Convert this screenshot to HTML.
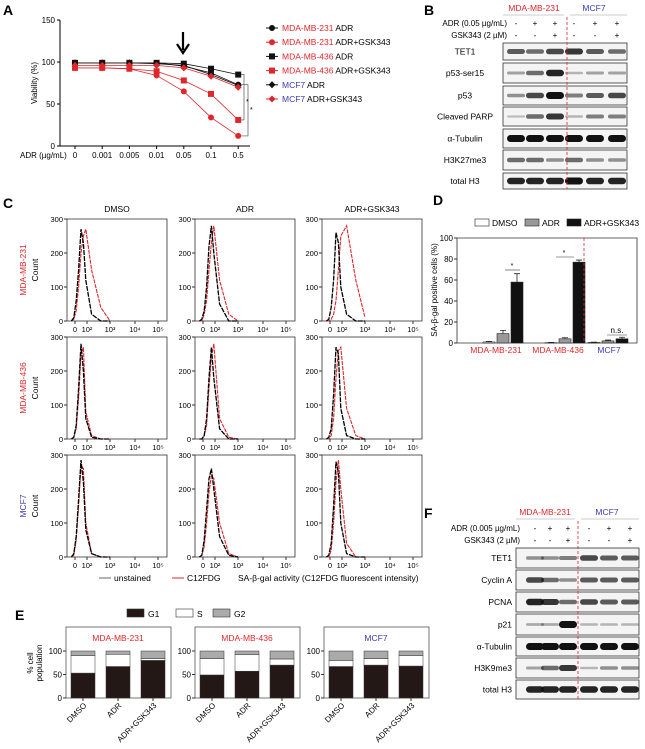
<!DOCTYPE html>
<html><head><meta charset="utf-8"><style>
body{margin:0;background:#fff;}
svg{display:block;font-family:"Liberation Sans",Arial,sans-serif;}
</style></head><body>
<svg id="fig" width="645" height="749" viewBox="0 0 645 749" xmlns="http://www.w3.org/2000/svg">
<text x="3" y="15" font-size="14" font-weight="bold">A</text>
<text x="424" y="15" font-size="14" font-weight="bold">B</text>
<text x="3" y="208" font-size="14" font-weight="bold">C</text>
<text x="433" y="205" font-size="14" font-weight="bold">D</text>
<text x="15" y="620" font-size="14" font-weight="bold">E</text>
<text x="424" y="518" font-size="14" font-weight="bold">F</text>
</svg>
<script>
const NS="http://www.w3.org/2000/svg";
const svg=document.getElementById('fig');
function mk(tag,attrs,parent){const e=document.createElementNS(NS,tag);for(const k in attrs)e.setAttribute(k,attrs[k]);(parent||svg).appendChild(e);return e;}
function tx(x,y,s,attrs,parent){const e=mk('text',Object.assign({x:x,y:y,'font-size':8},attrs||{}),parent);e.textContent=s;return e;}

// ================= Panel A data =================
const doseLabels=["0","0.001","0.005","0.01","0.05","0.1","0.5"];
const mda231Adr=[99,99,99,99,95,87,73];
const mda231AdrGsk=[93,93,92,84,65,34,12];
const mda436Adr=[99,99,99,99,98,92,85];
const mda436AdrGsk=[93,93,92,89,78,62,31];
const mcf7Adr=[99,99,99,98,96,85,72];
const mcf7AdrGsk=[96,96,96,96,93,83,70];
const viabTicks=[0,50,100,150];

const ax=i=>75+i*27.2, ay=v=>146-v*0.84;
let e;
e=mk('line',{x1:60,y1:ay(150),x2:60,y2:146,stroke:'#000','stroke-width':1});

e=mk('line',{x1:60,y1:146,x2:250,y2:146,stroke:'#000','stroke-width':1});

viabTicks.forEach(t=>{mk('line',{x1:57,y1:ay(t),x2:60,y2:ay(t),stroke:'#000'});
 e=tx(55,ay(t)+3,String(t),{'text-anchor':'end'});
 });
doseLabels.forEach((l,i)=>{mk('line',{x1:ax(i),y1:146,x2:ax(i),y2:149,stroke:'#000'});
 e=tx(ax(i),158,l,{'text-anchor':'middle'});
 });
e=tx(20,158,"ADR (µg/mL)",{});
e=tx(37,83,"Viability (%)",{'text-anchor':'middle',transform:'rotate(-90 37 83)'});

e=mk('path',{d:'M183 32 L183 50 M177 44 L183 53 L189 44',stroke:'#000','stroke-width':2.2,fill:'none'});

function marker(x,y,shape,col,g){
 if(shape==='c')return mk('circle',{cx:x,cy:y,r:3,fill:col},g);
 if(shape==='s')return mk('rect',{x:x-3,y:y-3,width:6,height:6,fill:col},g);
 return mk('path',{d:`M${x} ${y-3.5}L${x+3.5} ${y}L${x} ${y+3.5}L${x-3.5} ${y}Z`,fill:col},g);}
const seriesA=[[mda231Adr,'c','#111','mda231-adr'],[mda231AdrGsk,'c','#e0262b','mda231-adr-gsk'],
 [mda436Adr,'s','#111','mda436-adr'],[mda436AdrGsk,'s','#e0262b','mda436-adr-gsk'],
 [mcf7Adr,'d','#111','mcf7-adr'],[mcf7AdrGsk,'d','#e0262b','mcf7-adr-gsk']];
seriesA.forEach(s=>{const g=mk('g',{});
 
 mk('polyline',{points:s[0].map((v,i)=>ax(i)+','+ay(v)).join(' '),fill:'none',stroke:s[2],'stroke-width':0.8},g);
 s[0].forEach((v,i)=>{const m=marker(ax(i),ay(v),s[1],s[2],g);
 });});
[[mda436Adr,mda436AdrGsk,244],[mda231Adr,mda231AdrGsk,248]].forEach(b=>{
 e=mk('path',{d:`M241 ${ay(b[0][6])}H${b[2]}V${ay(b[1][6])}H241`,fill:'none',stroke:'#555','stroke-width':0.7});
 });
tx(246,104,"*",{'font-size':7});tx(250,112,"*",{'font-size':7});
const legA=[["MDA-MB-231","#e0262b"," ADR"],["MDA-MB-231","#e0262b"," ADR+GSK343"],["MDA-MB-436","#e0262b"," ADR"],["MDA-MB-436","#e0262b"," ADR+GSK343"],["MCF7","#3a3ab8"," ADR"],["MCF7","#3a3ab8"," ADR+GSK343"]];
legA.forEach((l,i)=>{const y=28+i*14.2;const g=mk('g',{});
 
 mk('line',{x1:266,y1:y,x2:278,y2:y,stroke:seriesA[i][2]},g);marker(272,y,seriesA[i][1],seriesA[i][2],g);
 const t=tx(282,y+3,'',{'font-size':8.5},g);
 const a=document.createElementNS(NS,'tspan');a.setAttribute('fill',l[1]);a.textContent=l[0];t.appendChild(a);
 const b=document.createElementNS(NS,'tspan');b.textContent=l[2];t.appendChild(b);});

// ================= Western blots =================
function blot(cfg){
 const {lanesX,rows,box,dash,hdr,signs,signY,labelX,name}=cfg;
 tx(hdr[0].x,hdr[0].y,"MDA-MB-231",{fill:'#e0262b','text-anchor':'middle','font-size':8.5});
 tx(hdr[1].x,hdr[1].y,"MCF7",{fill:'#3a3ab8','text-anchor':'middle','font-size':8.5});
 mk('line',{x1:box[0],y1:hdr[0].y+4,x2:dash-3,y2:hdr[0].y+4,stroke:'#999','stroke-width':0.6});
 mk('line',{x1:dash+3,y1:hdr[0].y+4,x2:box[1],y2:hdr[0].y+4,stroke:'#999','stroke-width':0.6});
 signs.forEach((row,r)=>{tx(labelX,signY[r]+3,row.label,{'text-anchor':'end','font-size':8});
  row.vals.forEach((s,i)=>tx(lanesX[i],signY[r]+3,s,{'text-anchor':'middle','font-size':8}));});
 rows.forEach(r=>{const g=mk('g',{});
  
  mk('rect',{x:box[0],y:r.y0,width:box[1]-box[0],height:r.y1-r.y0,fill:'#f4f4f4',stroke:'#333','stroke-width':0.8},g);
  const cy=(r.y0+r.y1)/2;
  r.band.forEach((v,i)=>{if(v<=0)return;const h=2+v*5;
   const b=mk('rect',{x:lanesX[i]-9,y:cy-h/2,width:18,height:h,rx:h/2,fill:'#111','fill-opacity':Math.min(1,0.2+v*0.8)},g);
   });
  tx(cfg.rowLabelX,cy+3,r.label,{'text-anchor':cfg.rowAnchor,'font-size':8.5},g);});
 mk('line',{x1:dash,y1:hdr[0].y+6,x2:dash,y2:rows[rows.length-1].y1,stroke:'#e0262b','stroke-width':0.8,'stroke-dasharray':'3,2'});
}
const bLanes=[516,535,555,574,595,617];
const bTet1=[0.6,0.5,0.7,0.8,0.6,0.5];
const bP53s15=[0.2,0.5,0.9,0.1,0.2,0.2];
const bP53=[0.3,0.7,1.0,0.4,0.6,0.7];
const bParp=[0.05,0.5,0.8,0.1,0.4,0.4];
const bTub=[1,1,1,1,1,1];
const bH3k27=[0.5,0.5,0.3,0.5,0.3,0.3];
const bH3=[0.9,0.9,0.9,1,0.9,0.9];
blot({name:'b',lanesX:bLanes,box:[503,627],dash:567,hdr:[{x:534,y:11},{x:594,y:11}],
 signY:[23,35],labelX:507,rowLabelX:465,rowAnchor:'middle',
 signs:[{label:"ADR (0.05 µg/mL)",vals:["-","+","+","-","+","+"]},{label:"GSK343 (2 µM)",vals:["-","-","+","-","-","+"]}],
 rows:[{label:"TET1",y0:43,y1:60,band:bTet1},{label:"p53-ser15",y0:63,y1:83,band:bP53s15},{label:"p53",y0:86,y1:105,band:bP53},
  {label:"Cleaved PARP",y0:107,y1:126,band:bParp},{label:"α-Tubulin",y0:129,y1:148,band:bTub},{label:"H3K27me3",y0:150,y1:170,band:bH3k27},{label:"total H3",y0:173,y1:189,band:bH3}]});
const fLanes=[535,550,568,589,609,630];
const fTet1=[0.3,0.3,0.4,0.7,0.6,0.6];
const fCycA=[0.7,0.5,0.3,0.6,0.6,0.6];
const fPcna=[0.9,0.8,0.5,0.7,0.6,0.6];
const fP21=[0.15,0.15,1.0,0.1,0.1,0.1];
const fTub=[1,1,1,1,1,1];
const fH3k9=[0.2,0.5,0.8,0.1,0.3,0.3];
const fH3=[0.9,0.9,0.9,0.9,0.9,0.9];
blot({name:'f',lanesX:fLanes,box:[516,639],dash:578,hdr:[{x:545,y:515},{x:607,y:515}],
 signY:[528,540],labelX:520,rowLabelX:512,rowAnchor:'end',
 signs:[{label:"ADR (0.005 µg/mL)",vals:["-","+","+","-","+","+"]},{label:"GSK343 (2 µM)",vals:["-","-","+","-","-","+"]}],
 rows:[{label:"TET1",y0:548,y1:568,band:fTet1},{label:"Cyclin A",y0:570,y1:590,band:fCycA},{label:"PCNA",y0:592,y1:612,band:fPcna},
  {label:"p21",y0:614,y1:635,band:fP21},{label:"α-Tubulin",y0:637,y1:656,band:fTub},{label:"H3K9me3",y0:658,y1:678,band:fH3k9},{label:"total H3",y0:680,y1:699,band:fH3}]});

// ================= Panel C histograms =================
const histBins=[-0.6,-0.2,0.2,0.6,1.0,1.4,1.8,2.2,2.6,3.0];
const histTicks=["0","10²","10³","10⁴","10⁵"];
const countTicks=[0,100,200,300];
const unstained=[
 [[0,10,60,150,270,230,120,20,0,0],[0,5,30,100,220,280,200,50,0,0],[0,5,40,120,260,230,100,20,0,0]],
 [[0,5,40,150,280,200,60,5,0,0],[0,0,10,60,180,270,180,30,0,0],[0,5,30,130,270,250,90,10,0,0]],
 [[0,10,60,170,285,220,80,10,0,0],[0,5,50,140,230,260,200,60,5,0],[0,5,40,150,280,250,100,10,0,0]]];
const c12fdg=[
 [[0,5,30,100,200,250,270,150,40,0],[0,0,20,60,150,230,280,120,20,0],[0,0,5,20,60,150,250,280,120,10]],
 [[0,5,30,120,250,270,80,10,0,0],[0,0,10,40,150,240,280,60,5,0],[0,0,10,60,180,260,270,90,10,0]],
 [[0,5,50,150,270,260,100,10,0,0],[0,5,30,100,190,240,230,100,10,0],[0,0,20,100,220,285,200,40,0,0]]];
const colX=[67,195,322], rowY=[219,337,455], HW=100, HH=102;
const colT=["DMSO","ADR","ADR+GSK343"];
const rowT=[["MDA-MB-231","#e0262b"],["MDA-MB-436","#e0262b"],["MCF7","#3a3ab8"]];
function hx(x0,v){const kp=[[-1,2],[0,8],[2,20],[3,43],[4,68],[5,91]];
 for(let i=1;i<kp.length;i++){if(v<=kp[i][0]){const a=kp[i-1],b=kp[i];return x0+a[1]+(v-a[0])/(b[0]-a[0])*(b[1]-a[1]);}}return x0+91;}
colT.forEach((t,c)=>{e=tx(colX[c]+HW/2,212,t,{'text-anchor':'middle','font-size':8.5});
 });
rowT.forEach((r,ri)=>{const cy=rowY[ri]+HH/2;
 e=tx(26,cy,r[0],{'text-anchor':'middle',fill:r[1],'font-size':8.5,transform:`rotate(-90 26 ${cy})`});
 
 e=tx(38,cy,"Count",{'text-anchor':'middle','font-size':8.5,transform:`rotate(-90 38 ${cy})`});
 
 colT.forEach((t,c)=>{const x0=colX[c],y0=rowY[ri];const g=mk('g',{});
  
  mk('rect',{x:x0,y:y0,width:HW,height:HH,fill:'none',stroke:'#333','stroke-width':0.8},g);
  const hy=v=>y0+HH-v/300*HH;
  countTicks.forEach(k=>{mk('line',{x1:x0-3,y1:hy(k),x2:x0,y2:hy(k),stroke:'#333'},g);
   tx(x0-4,hy(k)+3,String(k),{'text-anchor':'end','font-size':7.5},g);});
  histTicks.forEach((k,i)=>{const xx=hx(x0,[0,2,3,4,5][i]);mk('line',{x1:xx,y1:y0+HH,x2:xx,y2:y0+HH+3,stroke:'#333'},g);
   tx(xx,y0+HH+11,k,{'text-anchor':'middle','font-size':7.5},g);});
  const r1=mk('polyline',{points:c12fdg[ri][c].map((v,i)=>hx(x0,histBins[i])+','+hy(v)).join(' '),fill:'none',stroke:'#e0262b','stroke-width':1.1,'stroke-dasharray':'4,1'},g);
  
  const b1=mk('polyline',{points:unstained[ri][c].map((v,i)=>hx(x0,histBins[i])+','+hy(v)).join(' '),fill:'none',stroke:'#000','stroke-width':1.3,'stroke-dasharray':'5,1'},g);
  });});
e=mk('g',{});
mk('line',{x1:99,y1:578,x2:111,y2:578,stroke:'#666'},e);tx(114,581,"unstained",{'font-size':8.5},e);
mk('line',{x1:172,y1:578,x2:184,y2:578,stroke:'#e0262b'},e);tx(187,581,"C12FDG",{'font-size':8.5},e);
tx(238,581,"SA-β-gal activity (C12FDG fluorescent intensity)",{'font-size':8.5},e);

// ================= Panel D =================
const dGroups=["MDA-MB-231","MDA-MB-436","MCF7"];
const dDmso=[1,0.3,0.5];
const dAdr=[9,4,2];
const dGsk=[58,77,4];
const dErr=[[0.5,3,8],[0.3,1,2],[0.3,0.8,1.5]];
const dTicks=[0,20,40,60,80,100];
const dx0=457,dx1=637,dyTop=238,dyBot=343;
const dy=v=>dyBot-v/100*(dyBot-dyTop);
const gC=[504,566,609];
e=mk('path',{d:`M${dx0} ${dyTop}V${dyBot}H${dx1}V${dyTop}Z`,fill:'none',stroke:'#333','stroke-width':0.8});

dTicks.forEach(t=>{mk('line',{x1:dx0-3,y1:dy(t),x2:dx0,y2:dy(t),stroke:'#333'});
 e=tx(dx0-4,dy(t)+3,String(t),{'text-anchor':'end','font-size':8});});
e=tx(437,290,"SA-β-gal positive cells (%)",{'text-anchor':'middle','font-size':8,transform:'rotate(-90 437 290)'});

const dSeries=[[dDmso,'#fff',-15],[dAdr,'#999',-1],[dGsk,'#111',13]];
dSeries.forEach((s,si)=>s[0].forEach((v,gi)=>{const x=gC[gi]+s[2]-6;
 const b=mk('rect',{x:x,y:dy(v),width:12,height:dyBot-dy(v),fill:s[1],stroke:'#222','stroke-width':0.6});
 
 const er=dErr[gi][si];mk('path',{d:`M${x+6} ${dy(v)}V${dy(v+er)}M${x+3} ${dy(v+er)}H${x+9}`,stroke:'#222','stroke-width':0.8,fill:'none'});}));
dGroups.forEach((g,i)=>{e=tx(gC[i]-(i==2?0:8),353,g,{'text-anchor':'middle','font-size':8.5,fill:i==2?'#3a3ab8':'#e0262b'});
 });
mk('line',{x1:584,y1:dyTop,x2:584,y2:dyBot,stroke:'#e0262b','stroke-width':0.8,'stroke-dasharray':'3,2'});
mk('line',{x1:505,y1:270,x2:520,y2:270,stroke:'#333','stroke-width':0.6});tx(512,268,"*",{'text-anchor':'middle','font-size':7});
mk('line',{x1:556,y1:257,x2:574,y2:257,stroke:'#333','stroke-width':0.6});tx(564,255,"*",{'text-anchor':'middle','font-size':7});
mk('line',{x1:607,y1:335,x2:627,y2:335,stroke:'#333','stroke-width':0.6});tx(617,333,"n.s.",{'text-anchor':'middle','font-size':8});
[['DMSO','#fff',475],['ADR','#999',525],['ADR+GSK343','#111',567]].forEach(l=>{const g=mk('g',{});
 
 mk('rect',{x:l[2],y:219,width:14,height:7,fill:l[1],stroke:'#222','stroke-width':0.6},g);tx(l[2]+17,226,l[0],{'font-size':8.5},g);});

// ================= Panel E =================
const eConds=["DMSO","ADR","ADR+GSK343"];
const eLines=[["MDA-MB-231","#e0262b"],["MDA-MB-436","#e0262b"],["MCF7","#3a3ab8"]];
const eG1=[[53,67,80],[49,57,70],[67,70,68]];
const eS=[[37,26,4],[35,35,13],[13,14,22]];
const eG2=[[10,7,16],[16,8,17],[20,16,10]];
const eTicks=[0,50,100];
const eBoxX=[66,195,324], eTop=627, eBot=698;
const ey=v=>eBot-v*0.47;
eLines.forEach((ln,p)=>{const x0=eBoxX[p];const g=mk('g',{});
 
 mk('rect',{x:x0,y:eTop,width:105,height:eBot-eTop,fill:'none',stroke:'#555','stroke-width':0.8},g);
 tx(x0+52,641,ln[0],{'text-anchor':'middle',fill:ln[1],'font-size':8.5},g);
 eTicks.forEach(t=>{mk('line',{x1:x0-3,y1:ey(t),x2:x0,y2:ey(t),stroke:'#333'},g);tx(x0-4,ey(t)+3,String(t),{'text-anchor':'end','font-size':8},g);});
 eConds.forEach((c,i)=>{const cx=x0+17+i*35;let base=0;
  [[eG1,'#231815'],[eS,'#fff'],[eG2,'#aaa']].forEach((s,si)=>{const v=s[0][p][i];
   const b=mk('rect',{x:cx-12,y:ey(base+v),width:24,height:v*0.47,fill:s[1],stroke:'#333','stroke-width':0.5},g);
   base+=v;});
  mk('line',{x1:cx,y1:eBot,x2:cx,y2:eBot+3,stroke:'#333'},g);
  tx(cx+4,eBot+8,c,{'text-anchor':'end','font-size':8,transform:`rotate(-45 ${cx+4} ${eBot+8})`},g);});});
e=tx(33,663,"% cell",{'text-anchor':'middle','font-size':8,transform:'rotate(-90 33 663)'});

tx(42,663,"population",{'text-anchor':'middle','font-size':8,transform:'rotate(-90 42 663)'});
[['G1','#231815',127],['S','#fff',176],['G2','#aaa',213]].forEach(l=>{const g=mk('g',{});
 
 mk('rect',{x:l[2],y:609,width:17,height:8,fill:l[1],stroke:'#333','stroke-width':0.6},g);tx(l[2]+21,617,l[0],{'font-size':8.5},g);});
</script>
</body></html>
